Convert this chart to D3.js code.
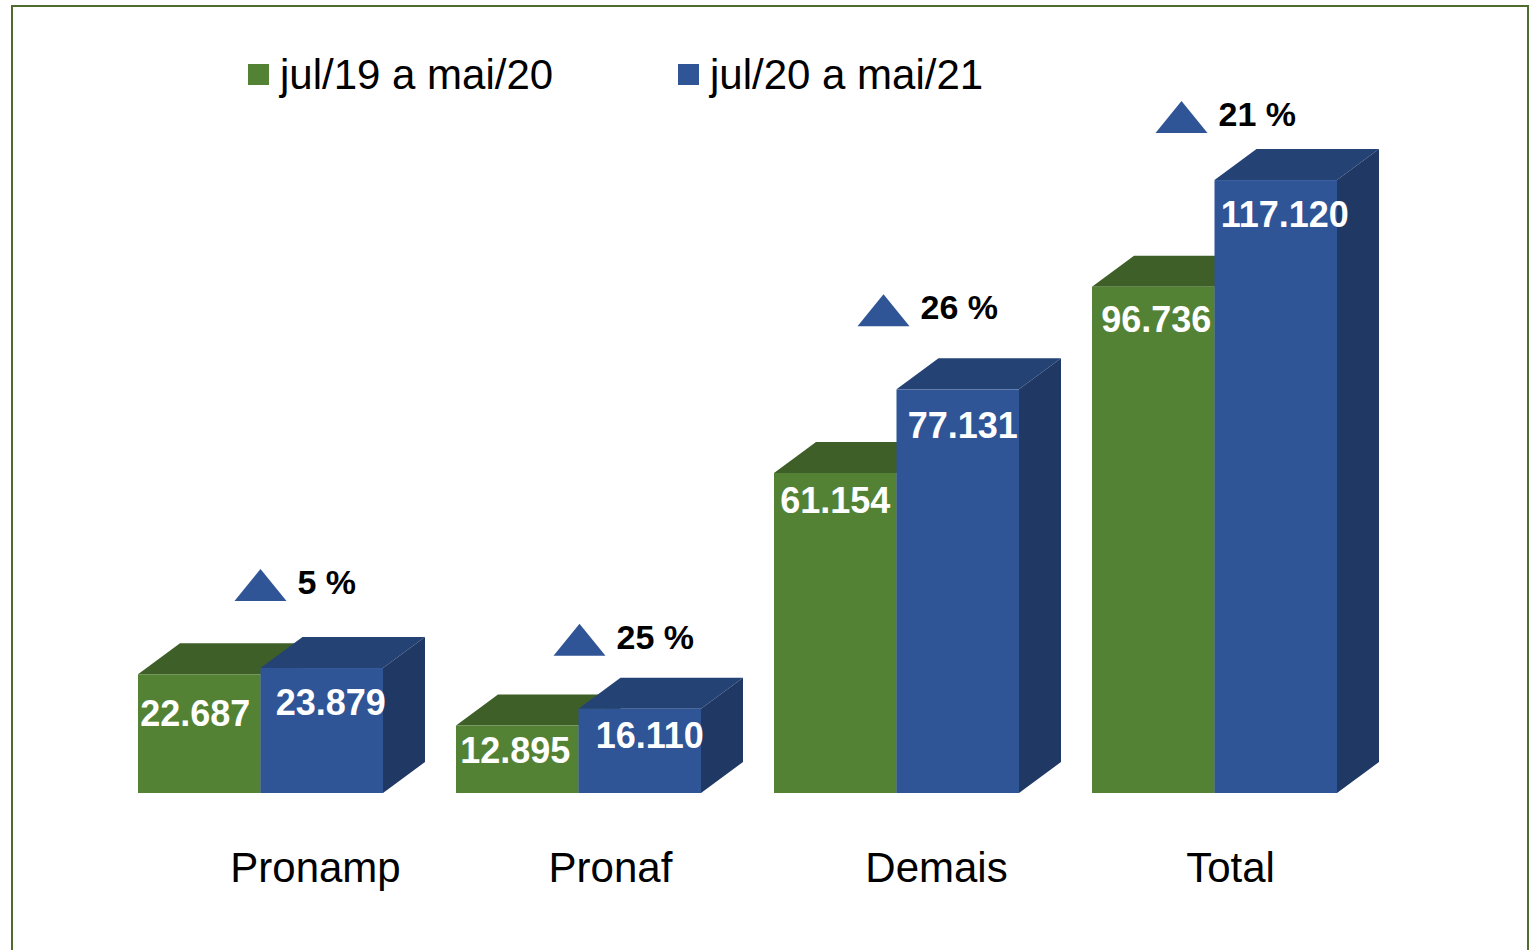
<!DOCTYPE html>
<html><head><meta charset="utf-8">
<script src="https://cdn.jsdelivr.net/npm/d3@7"></script>
<style>html,body{margin:0;padding:0;background:#fff;}svg{display:block;}</style>
</head><body>
<script>
// ---- data ----
const categories = ["Pronamp", "Pronaf", "Demais", "Total"];
const seriesNames = ["jul/19 a mai/20", "jul/20 a mai/21"];
const values2019 = [22687, 12895, 61154, 96736];
const values2020 = [23879, 16110, 77131, 117120];
const pctChange = [5, 25, 26, 21];

// ---- layout / style ----
const W = 1537, H = 950;
const frontColors = ["#548235", "#2f5597"];
const topColors = ["#3e5f28", "#254274"];
const sideColors = ["#3a5a25", "#203864"];
const depthX = 42, depthY = 31;
const annDx = [0, 1, -13, -33];     // annotation nudges (px)
const annGap = [36, 22, 32, 16];    // gap above bar back-top (px)
const catDx = [55, 32, 40, 16];     // category label nudges (px)
const labelDy = [[52, 37, 40, 45], [47, 39, 49, 47]]; // value label baseline below bar top (px)
const labelDx = [[-4, -2, 0, 3], [9, 10, 5, 9]];      // value label x nudges (px)
const font = "'Liberation Sans', Arial, Helvetica, sans-serif";

const svg = d3.select("body").append("svg").attr("width", W).attr("height", H);

svg.append("rect").attr("x", 12).attr("y", 6).attr("width", 1516).attr("height", 960)
  .attr("fill", "#fff").attr("stroke", "#4f6b2d").attr("stroke-width", 2);

const x = d3.scaleBand().domain(categories).range([138, 1337]).paddingInner(0.2296).paddingOuter(0);
const xs = d3.scaleBand().domain(seriesNames).range([0, x.bandwidth()]).padding(0);
const y = d3.scaleLinear().domain([0, 120000]).range([793, 165]);

const ptl = d3.formatLocale({decimal: ",", thousands: ".", grouping: [3], currency: ["R$", ""]});
const fmt = ptl.format(",d");

const series = [values2019, values2020];
const bars = svg.append("g");

categories.forEach((c, i) => {
  const g = bars.append("g");
  series.forEach((vals, s) => {
    const x0 = x(c) + xs(seriesNames[s]);
    const x1 = x0 + xs.bandwidth();
    const yt = y(vals[i]);
    const y0 = y(0);
    // top face
    g.append("polygon")
      .attr("points", [[x0, yt], [x1, yt], [x1 + depthX, yt - depthY], [x0 + depthX, yt - depthY]].map(p => p.join(",")).join(" "))
      .attr("fill", topColors[s]);
    // side face
    g.append("polygon")
      .attr("points", [[x1, yt], [x1 + depthX, yt - depthY], [x1 + depthX, y0 - depthY], [x1, y0]].map(p => p.join(",")).join(" "))
      .attr("fill", sideColors[s]);
    // front face
    g.append("rect").attr("x", x0).attr("y", yt).attr("width", x1 - x0).attr("height", y0 - yt)
      .attr("fill", frontColors[s]);
  });
  // value labels (drawn after both bars)
  series.forEach((vals, s) => {
    const x0 = x(c) + xs(seriesNames[s]);
    const cx = x0 + xs.bandwidth() / 2 + labelDx[s][i];
    g.append("text").attr("x", cx).attr("y", y(vals[i]) + labelDy[s][i])
      .attr("text-anchor", "middle").attr("font-family", font).attr("font-weight", "bold")
      .attr("font-size", 36).attr("fill", "#fff").text(fmt(vals[i]));
  });
  // annotation triangle + pct
  const gc = x(c) + x.bandwidth() / 2 + annDx[i];
  const base = y(values2020[i]) - depthY - annGap[i];
  g.append("polygon")
    .attr("points", [[gc - 26, base], [gc + 26, base], [gc, base - 32]].map(p => p.join(",")).join(" "))
    .attr("fill", "#2f5597");
  g.append("text").attr("x", gc + 37).attr("y", base - 7)
    .attr("font-family", font).attr("font-weight", "bold").attr("font-size", 34)
    .attr("fill", "#000").text(pctChange[i] + " %");
  // category label
  svg.append("text").attr("x", x(c) + x.bandwidth() / 2 + catDx[i]).attr("y", 882)
    .attr("text-anchor", "middle").attr("font-family", font).attr("font-size", 42)
    .attr("fill", "#000").text(c);
});

// legend
const legX = [248, 678];
seriesNames.forEach((n, s) => {
  svg.append("rect").attr("x", legX[s]).attr("y", 64).attr("width", 21).attr("height", 21)
    .attr("fill", frontColors[s]);
  svg.append("text").attr("x", legX[s] + 32).attr("y", 89)
    .attr("font-family", font).attr("font-size", 42).attr("fill", "#000").text(n);
});
</script>
</body></html>
